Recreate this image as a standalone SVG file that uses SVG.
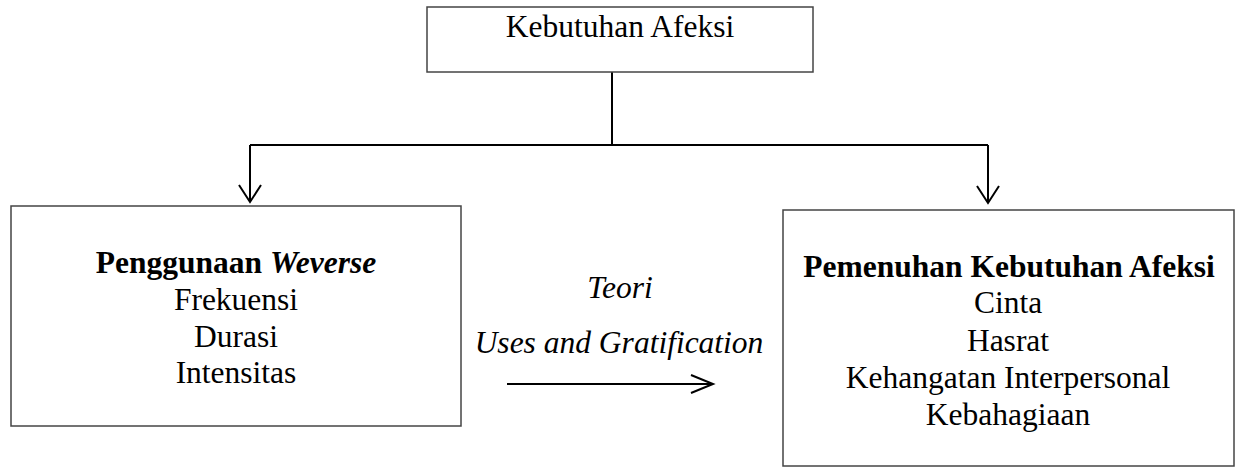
<svg xmlns="http://www.w3.org/2000/svg" width="1235" height="472" viewBox="0 0 1235 472">
<style>
.box{fill:#fff;stroke:#444;stroke-width:1.5}
.ln{fill:none;stroke:#000;stroke-width:2}
.t{font-family:"Liberation Serif","Times New Roman",serif;font-size:31.5px;fill:#000;text-anchor:middle}
.b{font-weight:bold}
.i{font-style:italic}
</style>
<rect width="1235" height="472" fill="#fff"/>
<g id="connectors">
<path class="ln" d="M612 72 V145 M250 145 H988 M250 145 V202 M988 145 V203"/>
<polyline class="ln" points="239,185 250,202 261,185"/>
<polyline class="ln" points="977,186 988,203 999,186"/>
<path class="ln" d="M507 384 H713"/>
<polyline class="ln" points="691,375 713,384 691,393"/>
</g>
<g id="top">
<rect class="box" x="427" y="7" width="386" height="65"/>
<text class="t" x="620" y="37">Kebutuhan Afeksi</text>
</g>
<g id="left">
<rect class="box" x="11" y="206" width="450" height="220"/>
<text class="t b" x="236" y="273">Penggunaan <tspan class="i">Weverse</tspan></text>
<text class="t" x="236" y="310">Frekuensi</text>
<text class="t" x="236" y="347">Durasi</text>
<text class="t" x="236" y="383">Intensitas</text>
</g>
<g id="theory">
<text class="t i" x="620" y="298">Teori</text>
<text class="t i" x="619" y="353">Uses and Gratification</text>
</g>
<g id="right">
<rect class="box" x="783" y="210" width="451" height="256"/>
<text class="t b" x="1009" y="277">Pemenuhan Kebutuhan Afeksi</text>
<text class="t" x="1008" y="313">Cinta</text>
<text class="t" x="1008" y="351">Hasrat</text>
<text class="t" x="1008" y="388">Kehangatan Interpersonal</text>
<text class="t" x="1008" y="425">Kebahagiaan</text>
</g>
</svg>
